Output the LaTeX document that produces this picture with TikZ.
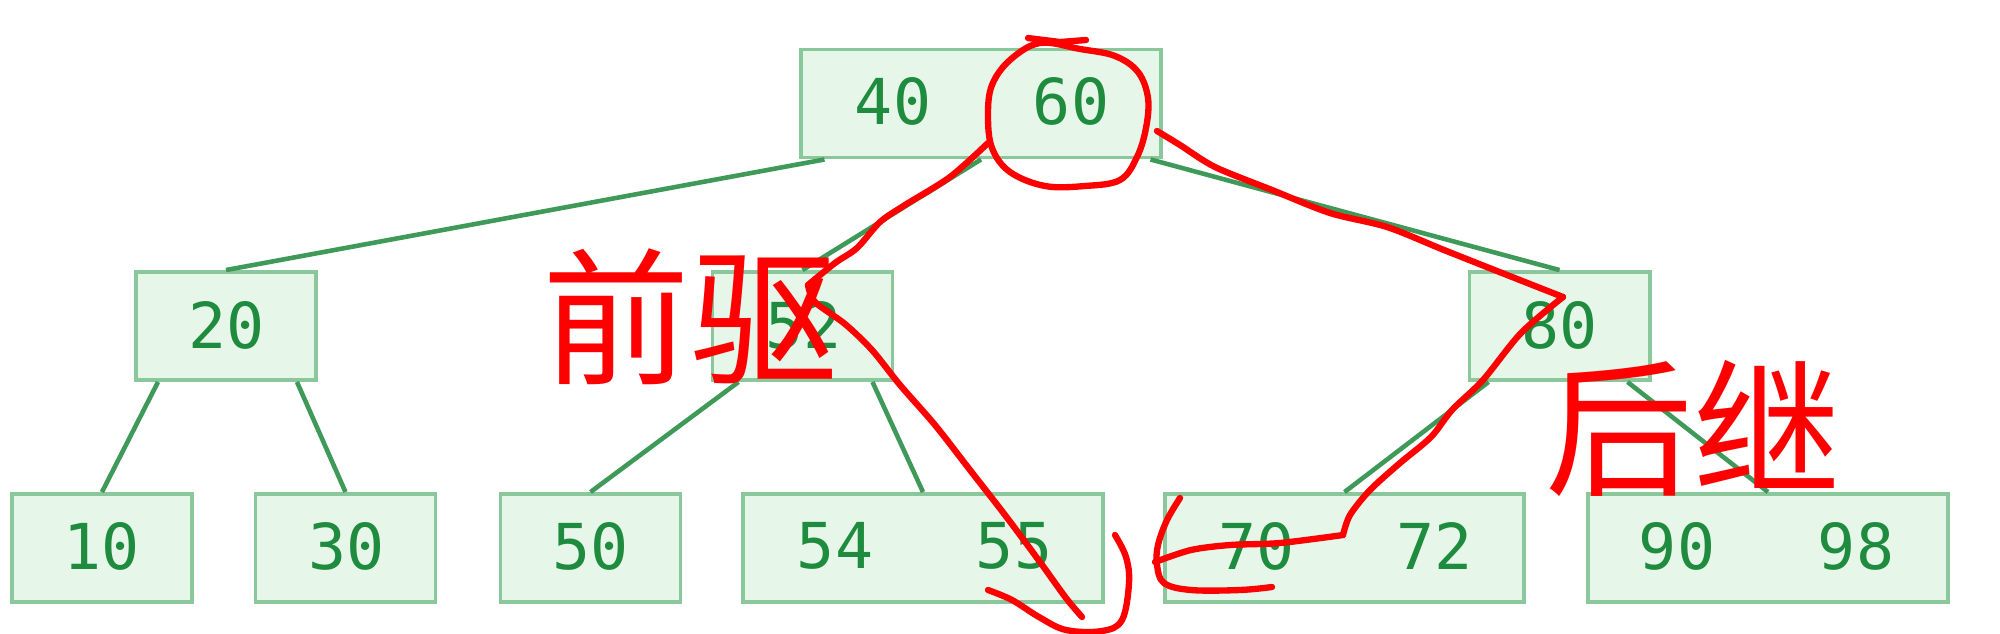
\documentclass[tikz,border=0pt]{standalone}
\usepackage{fontspec}
\newfontfamily\keyfont{DejaVu Sans Mono}
\newfontfamily\cjkfont{Noto Sans CJK SC}
\usetikzlibrary{calc}
\definecolor{boxfill}{HTML}{E6F7EA}
\definecolor{boxline}{HTML}{8AC89B}
\definecolor{keygreen}{HTML}{1E8B3E}
\definecolor{edgegreen}{HTML}{3F9A5A}
\definecolor{pen}{HTML}{FF0000}
\begin{document}
\begin{tikzpicture}[x=0.01cm,y=-0.01cm,
  box/.style={draw=boxline, fill=boxfill, line width=1.1pt, minimum height=1.08cm, inner sep=0pt},
  onebox/.style={box, minimum width=1.8cm},
  twobox/.style={box, minimum width=3.59cm},
  keytext/.style={font=\keyfont\fontsize{18pt}{18pt}\selectfont, text=keygreen, inner sep=0pt},
  edge/.style={draw=edgegreen, line width=1.3pt},
  redpen/.style={draw=pen, line width=1.8pt, line cap=round, line join=round},
  redtext/.style={font=\cjkfont\fontsize{42pt}{42pt}\selectfont, text=pen, inner sep=0pt}]
\fill[white] (0,0) rectangle (2000,633);
\useasboundingbox (0,0) rectangle (2000,633);

% boxes
\node[twobox] (root) at (981,103.5) {};
\node[onebox] (b20) at (226,326) {};
\node[onebox] (b52) at (802.5,326) {};
\node[onebox] (b80) at (1559.5,326) {};
\node[onebox] (b10) at (102,548) {};
\node[onebox] (b30) at (345.5,548) {};
\node[onebox] (b50) at (590.5,548) {};
\node[twobox] (b5455) at (923,548) {};
\node[twobox] (b7072) at (1344.5,548) {};
\node[twobox] (b9098) at (1768,548) {};

% edges
\draw[edge] ($(root.south west)+(25,0)$) -- (b20.north);
\draw[edge] (root.south) -- (b52.north);
\draw[edge] ($(root.south east)+(-12,0)$) -- (b80.north);
\draw[edge] ($(b20.south west)+(24,0)$) -- (b10.north);
\draw[edge] ($(b20.south east)+(-21,0)$) -- (b30.north);
\draw[edge] ($(b52.south west)+(28,0)$) -- (b50.north);
\draw[edge] ($(b52.south east)+(-22,0)$) -- (b5455.north);
\draw[edge] ($(b80.south west)+(21,0)$) -- (b7072.north);
\draw[edge] ($(b80.south east)+(-24,0)$) -- (b9098.north);

% keys
\node[keytext] (k40) at ($(root.center)+(-88,-2)$) {40};
\node[keytext] (k60) at ($(root.center)+(90,-2)$) {60};
\node[keytext] (k20) at ($(b20.center)+(1,-1)$) {20};
\node[keytext] (k52) at ($(b52.center)+(1,-1)$) {52};
\node[keytext] (k80) at ($(b80.center)+(0,-1)$) {80};
\node[keytext] (k10) at ($(b10.center)+(0,-2)$) {10};
\node[keytext] (k30) at ($(b30.center)+(1,-2)$) {30};
\node[keytext] (k50) at ($(b50.center)+(0,-2)$) {50};
\node[keytext] (k54) at ($(b5455.center)+(-88,-2)$) {54};
\node[keytext] (k55) at ($(b5455.center)+(91,-2)$) {55};
\node[keytext] (k70) at ($(b7072.center)+(-88,-2)$) {70};
\node[keytext] (k72) at ($(b7072.center)+(90,-2)$) {72};
\node[keytext] (k90) at ($(b9098.center)+(-91,-2)$) {90};
\node[keytext] (k98) at ($(b9098.center)+(88,-2)$) {98};

% red annotations: circle round 60
\draw[redpen] plot[smooth cycle, tension=0.6] coordinates {(1040,43) (1010,60) (992,85) (988,115) (992,148) (1010,172) (1045,186) (1085,186) (1120,180) (1137,157) (1146,128) (1148,98) (1138,72) (1115,56) (1080,49)};
\draw[redpen] (1028,38) -- (1060,42) -- (1086,40);

% predecessor path
\draw[redpen] plot[smooth, tension=0.5] coordinates {(988,143) (950,177) (905,205) (880,222) (857,248) (835,263) (808,285)};
\draw[redpen] plot[smooth, tension=0.5] coordinates {(808,285) (815,302) (845,324) (872,350) (900,385) (935,425) (970,470) (1005,515) (1040,562) (1066,598) (1082,617)};
\draw[redpen] plot[smooth, tension=0.6] coordinates {(988,590) (1012,600) (1039,617) (1066,630) (1102,631) (1122,620) (1129,583) (1126,557) (1115,535)};

% successor path
\draw[redpen] plot[smooth, tension=0.5] coordinates {(1157,131) (1180,145) (1215,167) (1272,190) (1330,213) (1387,227) (1444,250) (1502,273) (1563,297)};
\draw[redpen] plot[smooth, tension=0.5] coordinates {(1563,297) (1521,333) (1483,380) (1452,410) (1431,437) (1400,463) (1370,490) (1350,515) (1343,535)};
\draw[redpen] plot[smooth, tension=0.5] coordinates {(1343,535) (1280,543) (1230,545) (1191,550) (1155,562)};
\draw[redpen] plot[smooth, tension=0.6] coordinates {(1180,498) (1167,520) (1158,545) (1157,565) (1164,583) (1191,590) (1240,590) (1272,587)};

% red labels
\node[redtext] (pred) at (690,317) {前驱};
\node[redtext] (succ) at (1693,428) {后继};
\end{tikzpicture}
\end{document}
